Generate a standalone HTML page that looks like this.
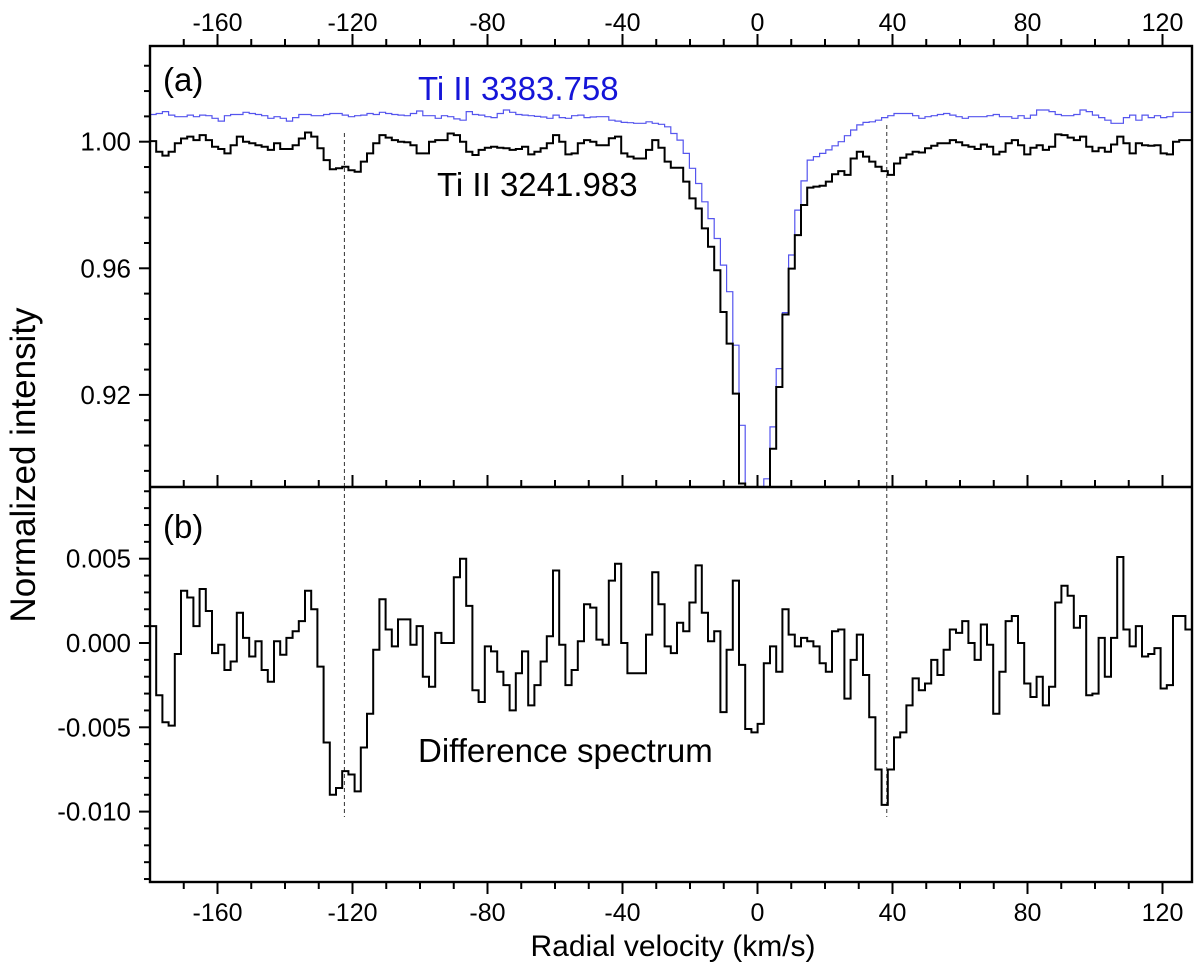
<!DOCTYPE html>
<html><head><meta charset="utf-8"><style>
html,body{margin:0;padding:0;background:#fff}
svg{display:block;font-family:"Liberation Sans",Arial,sans-serif}
</style></head><body>
<svg id="chart" width="1200" height="968" viewBox="0 0 1200 968">
<defs>
<clipPath id="clipA"><rect x="150" y="46" width="1042" height="441"/></clipPath>
<clipPath id="clipB"><rect x="150" y="487" width="1042" height="395"/></clipPath>
</defs>
<g id="layer"></g>
</svg>
<script>
// ---- data ----
const velStart = -180;          // km/s, left edge of first bin
const velStep = 1.837;          // km/s bin width
const tiBlack = [1.0002,0.9968,0.9956,0.9968,0.9995,1.0010,1.0016,1.0005,1.0021,1.0005,0.9984,0.9977,0.9963,0.9989,1.0016,1.0000,0.9995,0.9989,0.9984,0.9974,0.9995,0.9977,0.9977,0.9989,1.0010,1.0029,1.0016,0.9979,0.9942,0.9913,0.9916,0.9921,0.9910,0.9905,0.9937,0.9963,0.9995,1.0021,1.0013,1.0005,1.0000,0.9998,0.9989,0.9963,0.9963,1.0000,1.0005,1.0005,1.0026,1.0021,1.0000,0.9968,0.9958,0.9974,0.9981,0.9984,0.9981,
0.9979,0.9974,0.9977,0.9984,0.9960,0.9968,0.9979,0.9995,1.0021,1.0000,0.9960,0.9963,0.9995,1.0005,1.0000,0.9989,0.9989,1.0011,1.0016,0.9963,0.9953,0.9947,0.9947,0.9974,1.0005,0.9981,0.9937,0.9918,0.9918,0.9874,0.9821,0.9789,0.9726,0.9668,0.9594,0.9462,0.9362,0.9204,0.8920,0.8600,0.8600,0.8600,0.8700,0.9030,0.9225,0.9454,0.9599,0.9705,0.9800,0.9855,0.9858,0.9861,0.9874,0.9897,0.9907,0.9895,0.9947,
0.9968,0.9953,0.9937,0.9921,0.9907,0.9895,0.9931,0.9949,0.9960,0.9968,0.9966,0.9979,0.9987,0.9995,0.9995,1.0005,0.9998,0.9989,0.9984,0.9977,0.9991,0.9984,0.9960,0.9968,0.9995,1.0005,0.9989,0.9960,0.9981,0.9989,0.9974,0.9984,1.0023,1.0021,1.0013,1.0005,1.0016,0.9984,0.9970,0.9981,0.9968,0.9991,1.0016,0.9995,0.9963,0.9995,0.9989,0.9987,0.9989,0.9963,0.9960,1.0000,1.0005,1.0005];
const tiBlue = [1.0086,1.0089,1.0095,1.0084,1.0079,1.0079,1.0084,1.0079,1.0084,1.0082,1.0074,1.0065,1.0082,1.0086,1.0086,1.0093,1.0089,1.0086,1.0082,1.0074,1.0079,1.0074,1.0065,1.0076,1.0086,1.0086,1.0082,1.0082,1.0086,1.0089,1.0089,1.0084,1.0079,1.0082,1.0084,1.0089,1.0086,1.0093,1.0089,1.0086,1.0084,1.0082,1.0089,1.0097,1.0082,1.0082,1.0074,1.0082,1.0079,1.0072,1.0068,1.0095,1.0086,1.0084,1.0079,1.0076,1.0089,
1.0100,1.0093,1.0086,1.0084,1.0082,1.0080,1.0078,1.0074,1.0084,1.0076,1.0074,1.0082,1.0084,1.0076,1.0078,1.0079,1.0079,1.0068,1.0065,1.0061,1.0060,1.0058,1.0058,1.0063,1.0058,1.0055,1.0047,1.0026,1.0005,0.9963,0.9916,0.9868,0.9810,0.9757,0.9694,0.9610,0.9526,0.9357,0.9104,0.8600,0.8600,0.8600,0.8935,0.9099,0.9283,0.9460,0.9642,0.9784,0.9876,0.9942,0.9953,0.9963,0.9974,0.9987,1.0000,1.0019,1.0037,
1.0053,1.0061,1.0063,1.0068,1.0076,1.0082,1.0089,1.0089,1.0089,1.0082,1.0074,1.0079,1.0082,1.0086,1.0089,1.0084,1.0079,1.0074,1.0079,1.0079,1.0079,1.0082,1.0086,1.0079,1.0079,1.0074,1.0082,1.0074,1.0084,1.0100,1.0100,1.0095,1.0086,1.0082,1.0082,1.0086,1.0100,1.0095,1.0084,1.0076,1.0068,1.0058,1.0058,1.0076,1.0084,1.0068,1.0084,1.0076,1.0082,1.0076,1.0079,1.0093,1.0093,1.0093];
// difference spectrum, in units of 1e-3
const diffMilli = [1.0,-3.1,-4.7,-4.9,-0.65,3.1,2.7,1.0,3.2,1.9,-0.6,-0.1,-1.6,-1.1,1.8,0.3,-0.8,0.1,-1.6,-2.3,0.1,-0.7,0.3,0.7,1.3,3.1,2.0,-1.4,-5.9,-9.0,-8.6,-7.6,-7.8,-8.8,-6.2,-4.2,-0.4,2.6,0.8,-0.2,1.4,1.4,-0.1,1.0,-2.0,-2.6,0.6,0.0,0.0,3.9,5.0,2.2,-2.8,-3.5,-0.2,-0.5,-1.7,-2.5,-4.0,-1.8,-0.5,-3.7,-2.5,-1.1,0.4,4.3,-0.1,-2.5,-1.6,0.1,2.3,2.1,0.2,-0.1,3.7,4.7,0.0,-1.8,-1.8,-1.8,0.5,4.2,2.3,
-0.2,-0.6,1.2,0.7,2.4,4.6,1.8,0.1,0.7,-4.1,-0.4,3.7,-1.3,-5.1,-5.3,-4.8,-1.2,-0.2,-1.7,2.0,0.5,-0.2,0.3,0.1,-0.2,-1.2,-1.7,0.7,0.8,-3.3,-1.0,0.5,-1.9,-4.4,-7.5,-9.6,-7.5,-5.6,-5.3,-3.7,-2.1,-2.8,-2.4,-1.0,-1.9,-0.4,0.8,0.6,1.3,0.0,-1.0,1.1,-0.1,-4.2,-1.7,1.3,1.6,0.0,-2.4,-3.2,-2.0,-3.7,-2.6,2.4,3.4,2.8,0.9,1.6,-3.1,-3.0,0.3,-2.0,0.3,5.1,0.8,-0.2,1.0,-0.8,-0.65,-0.3,-2.7,-2.5,1.6,1.6,0.8];
const xTickLabels = [-160,-120,-80,-40,0,40,80,120];
const yTopTickLabels = [1.00,0.96,0.92];
const yBotTickLabels = [0.005,0.000,-0.005,-0.010];
const markerVels = [-122.4,38.3];

// ---- scales ----
const X0=150,X1=1192,YT=46,YM=487,YB=882;
const vMin=-180,vMax=-180+(X1-X0)/3.375;
const xs=v=>X0+(v-vMin)*3.375;
const yA=f=>141.7+(1.0-f)*3165;
const yBs=d=>643-d*16860;

const NS="http://www.w3.org/2000/svg";
const layer=document.getElementById('layer');
function mk(tag,attrs,parent){const e=document.createElementNS(NS,tag);for(const k in attrs)e.setAttribute(k,attrs[k]);(parent||layer).appendChild(e);return e;}

function stepPath(vals,yfn,scale){
  let d='';
  vals.forEach((v,i)=>{
    const xa=xs(velStart+i*velStep), xb=xs(velStart+(i+1)*velStep), y=yfn(v*scale);
    d+=(i===0?'M':'L')+xa.toFixed(1)+','+y.toFixed(1)+'L'+xb.toFixed(1)+','+y.toFixed(1);
  });
  return d;
}

// dashed markers
markerVels.forEach((v,k)=>{
  const l1=mk('line',{x1:xs(v),x2:xs(v),y1:k===0?133:125,y2:YM,stroke:'#333','stroke-width':1,'stroke-dasharray':'4,3'});
  
  
  const l2=mk('line',{x1:xs(v),x2:xs(v),y1:YM,y2:817,stroke:'#333','stroke-width':1,'stroke-dasharray':'4,3'});
  
  
});

// series
const gA=mk('g',{'clip-path':'url(#clipA)'});
const pBlue=mk('path',{d:stepPath(tiBlue,yA,1),fill:'none',stroke:'#5555ee','stroke-width':1.2},gA);


const pBlack=mk('path',{d:stepPath(tiBlack,yA,1),fill:'none',stroke:'#000','stroke-width':2},gA);


const gB=mk('g',{'clip-path':'url(#clipB)'});
const pDiff=mk('path',{d:stepPath(diffMilli,yBs,1e-3),fill:'none',stroke:'#000','stroke-width':2},gB);



// frames
const fr=mk('rect',{x:X0,y:YT,width:X1-X0,height:YB-YT,fill:'none',stroke:'#000','stroke-width':2.4});


const mid=mk('line',{x1:X0,x2:X1,y1:YM,y2:YM,stroke:'#000','stroke-width':2.4});



// x ticks every 10 km/s
for(let v=-170;v<=vMax;v+=10){
  const x=xs(v), major=(v%40===0);
  const len=major?12:7;
  mk('line',{x1:x,x2:x,y1:YT,y2:YT-len,stroke:'#000','stroke-width':2});
  mk('line',{x1:x,x2:x,y1:YB,y2:YB+len,stroke:'#000','stroke-width':2});
  mk('line',{x1:x,x2:x,y1:YM,y2:YM-len,stroke:'#000','stroke-width':2});
}
xTickLabels.forEach(v=>{
  const t1=mk('text',{x:xs(v),y:31,'font-size':25,'text-anchor':'middle'});t1.textContent=v;
  
  
  const t2=mk('text',{x:xs(v),y:921,'font-size':25,'text-anchor':'middle'});t2.textContent=v;
  
  
});
// y ticks top panel: every 0.008
for(let k=-3;k<=17;k++){
  const f=1.0-k*0.008, y=yA(f);
  if(y<YT+1||y>YM-1)continue;
  const major=(k%5===0);
  mk('line',{x1:X0,x2:X0-(major?11:6),y1:y,y2:y,stroke:'#000','stroke-width':2});
}
yTopTickLabels.forEach(f=>{
  const t=mk('text',{x:131,y:yA(f)+9,'font-size':26,'text-anchor':'end'});t.textContent=f.toFixed(2);
  
  
});
// y ticks bottom panel: every 0.001
for(let k=-14;k<=9;k++){
  const y=yBs(k*0.001);
  if(y<YM+1||y>YB-1)continue;
  const major=(k%5===0);
  mk('line',{x1:X0,x2:X0-(major?11:6),y1:y,y2:y,stroke:'#000','stroke-width':2});
}
yBotTickLabels.forEach(d=>{
  const t=mk('text',{x:131,y:yBs(d)+9,'font-size':26,'text-anchor':'end'});t.textContent=d.toFixed(3);
  
  
});

function label(txt,x,y,size,name,extra){
  const t=mk('text',Object.assign({x:x,y:y,'font-size':size},extra||{}));t.textContent=txt;
  
  
  return t;
}
label('(a)',163,91,33,'panel-a-label');
label('(b)',163,538,33,'panel-b-label');
label('Ti II 3383.758',418,100,33,'blue-series-label',{fill:'#1515d8'});
label('Ti II 3241.983',437,196,33,'black-series-label');
label('Difference spectrum',418,762,33,'difference-label');
label('Radial velocity (km/s)',673,956,30,'x-axis-title',{'text-anchor':'middle'});
label('Normalized intensity',0,0,35,'y-axis-title',{'text-anchor':'middle',transform:'translate(35,465) rotate(-90)'});
</script>
</body></html>
